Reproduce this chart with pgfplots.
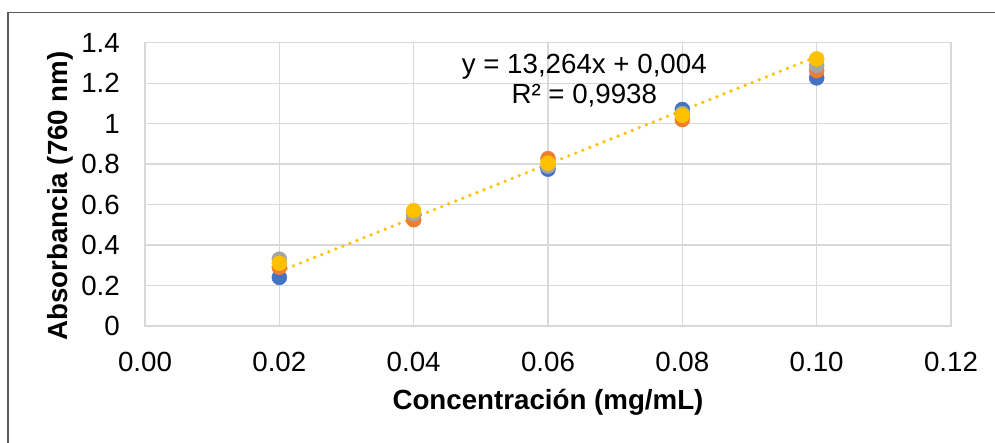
\documentclass[border=0pt]{standalone}
\usepackage{fontspec}
\setmainfont{Liberation Sans}
\usepackage{pgfplots}
\pgfplotsset{compat=1.18}

\definecolor{serA}{HTML}{4472C4}
\definecolor{serB}{HTML}{ED7D31}
\definecolor{serC}{HTML}{A5A5A5}
\definecolor{serD}{HTML}{FFC000}
\definecolor{gridc}{HTML}{D9D9D9}
\definecolor{framec}{HTML}{595959}

\begin{document}
\begin{tikzpicture}[x=1pt,y=1pt,font=\fontsize{27.7}{30}\selectfont]
\useasboundingbox (0,0) rectangle (995,-443);
% chart frame (only left and top edges are visible)
\draw[framec, line width=1.5pt] (8,-443) -- (8,-12.7) -- (995,-12.7);

\begin{axis}[
    at={(145pt,-326pt)},
    anchor=south west,
    scale only axis,
    width=806pt,
    height=283.3pt,
    xmin=0, xmax=0.12,
    ymin=0, ymax=1.4,
    xtick={0,0.02,0.04,0.06,0.08,0.10,0.12},
    xticklabels={0.00,0.02,0.04,0.06,0.08,0.10,0.12},
    ytick={0,0.2,0.4,0.6,0.8,1,1.2,1.4},
    yticklabels={0,0.2,0.4,0.6,0.8,1,1.2,1.4},
    major tick length=0pt,
    xmajorgrids, ymajorgrids,
    grid style={gridc, line width=1.3pt},
    axis line style={gridc, line width=1.3pt},
    xticklabel style={anchor=north, inner sep=0pt, yshift=-26pt},
    yticklabel style={anchor=east, inner sep=0pt, xshift=-25pt},
    xlabel={\bfseries Concentración (mg/mL)},
    ylabel={\bfseries Absorbancia (760 nm)},
    xlabel style={at={(axis description cs:0.5,-0.268)}, anchor=center},
    ylabel style={at={(axis description cs:-0.1055,0.459)}, anchor=center},
    clip=false,
]
\addplot[only marks, mark=*, mark size=7.5pt, mark options={draw=serA, fill=serA}]
    coordinates {(0.02,0.24) (0.04,0.55) (0.06,0.775) (0.08,1.07) (0.10,1.226)};
\addplot[only marks, mark=*, mark size=7.5pt, mark options={draw=serB, fill=serB}]
    coordinates {(0.02,0.29) (0.04,0.525) (0.06,0.827) (0.08,1.02) (0.10,1.262)};
\addplot[only marks, mark=*, mark size=7.5pt, mark options={draw=serC, fill=serC}]
    coordinates {(0.02,0.33) (0.04,0.555) (0.06,0.79) (0.08,1.05) (0.10,1.287)};
\addplot[only marks, mark=*, mark size=7.5pt, mark options={draw=serD, fill=serD}]
    coordinates {(0.02,0.31) (0.04,0.57) (0.06,0.805) (0.08,1.041) (0.10,1.32)};
% linear trendline y = 13.264x + 0.004
\addplot[serD, line width=3.6pt, line cap=round, dash pattern=on 0pt off 7.6pt, mark=none]
    coordinates {(0.02,0.26928) (0.10,1.3304)};
\node[align=center, inner sep=0pt] at (axis cs:0.0654,1.215)
    {y = 13,264x + 0,004\\R² = 0,9938};
\end{axis}
\end{tikzpicture}
\end{document}
